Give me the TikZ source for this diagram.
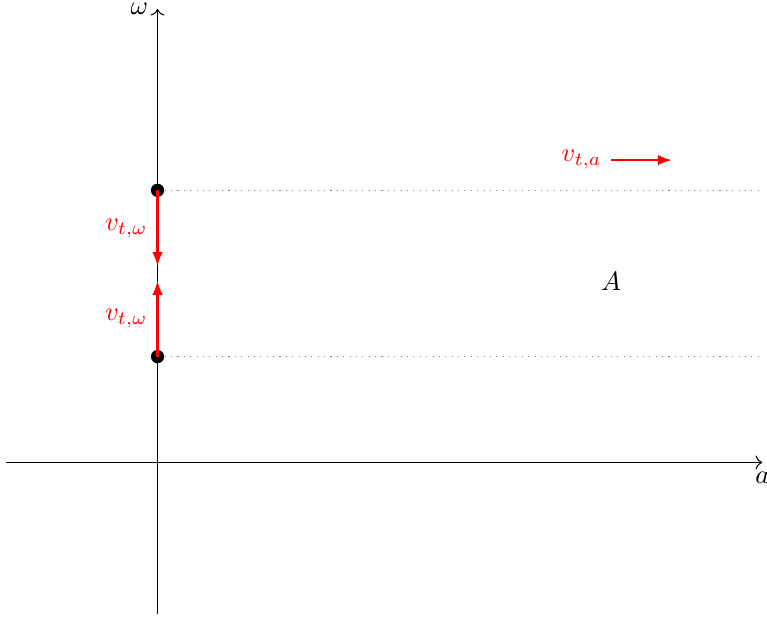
\documentclass[tikz,border=0pt]{standalone}
\usepackage{amsmath,amssymb}
\usepackage{xcolor}
\usetikzlibrary{arrows.meta,positioning}
\tikzset{
  vel/.style={-latex,thick,red},
  lvl/.style={dotted,gray},
  pt/.style={circle,fill=black,inner sep=0pt,minimum size=5pt}
}
\begin{document}
\begin{tikzpicture}
\useasboundingbox (-2.0836,-2.0567) rectangle (8.0624,6.1176);
% axes
\coordinate (xl) at (-2,0); \coordinate (xr) at (8,0);
\coordinate (yb) at (0,-2); \coordinate (yt) at (0,6);
\draw[->] (xl)--(xr) node[below]{$a$};
\draw[->] (yb)--(yt) node[left]{$\omega$};
% levels
\node[pt] (hi) at (0,3.6) {};
\node[pt] (lo) at (0,1.4) {};
\coordinate (hiR) at (8,3.6); \coordinate (loR) at (8,1.4);
\draw[lvl] (hi)--(hiR);
\draw[lvl] (lo)--(loR);
% velocities
\coordinate (hiT) at (0,2.6); \coordinate (loT) at (0,2.4);
\draw[vel] (hi.center)--(hiT) node[midway,left,red]{$v_{t,\omega}$};
\draw[vel] (lo.center)--(loT) node[midway,left,red]{$v_{t,\omega}$};
\coordinate (va) at (6,4); \coordinate (vb) at (6.8,4);
\draw[vel] (va)--(vb);
\node[left,red] (lab) at (va) {$v_{t,a}$};
\node (set) at (6,2.4) {$A$};
\end{tikzpicture}
\end{document}
